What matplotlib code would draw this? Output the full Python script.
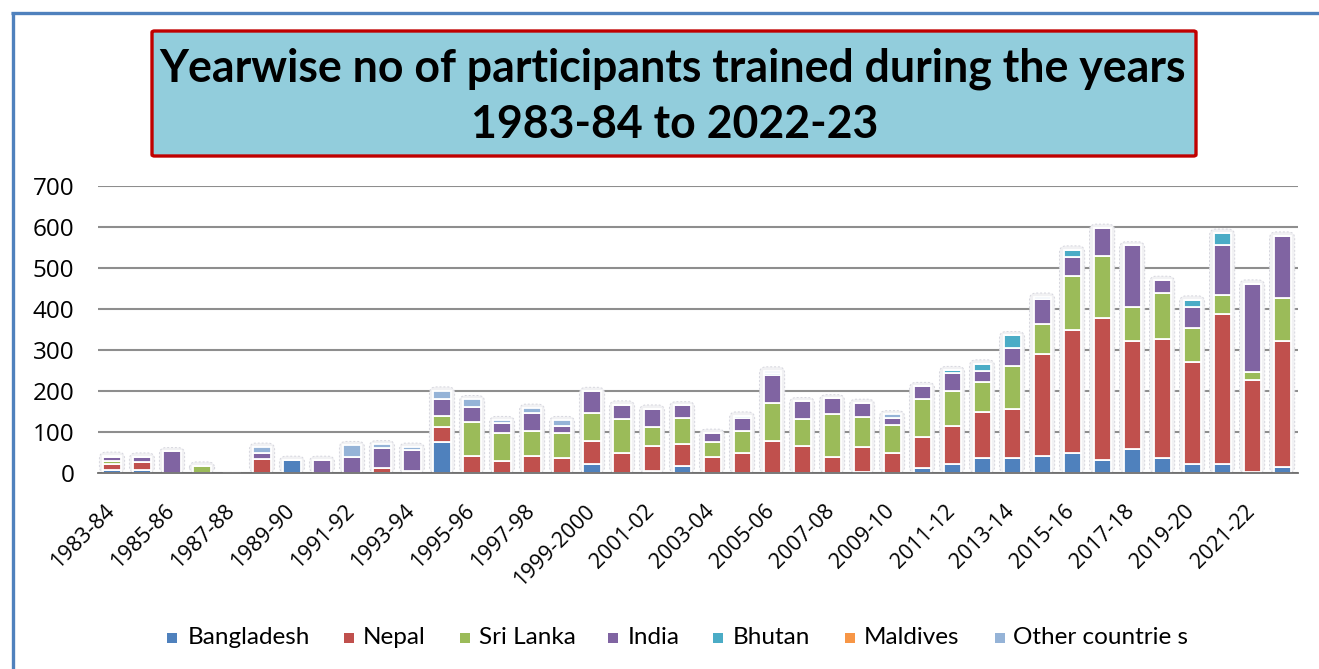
import matplotlib
matplotlib.use("Agg")
import matplotlib.pyplot as plt
import numpy as np
from matplotlib.patches import Rectangle, FancyBboxPatch
from matplotlib.lines import Line2D
from matplotlib.transforms import ScaledTranslation

# ---------------- data ----------------
years = ["1983-84", "1984-85", "1985-86", "1986-87", "1987-88", "1988-89", "1989-90",
         "1990-91", "1991-92", "1992-93", "1993-94", "1994-95", "1995-96", "1996-97",
         "1997-98", "1998-99", "1999-2000", "2000-01", "2001-02", "2002-03", "2003-04",
         "2004-05", "2005-06", "2006-07", "2007-08", "2008-09", "2009-10", "2010-11",
         "2011-12", "2012-13", "2013-14", "2014-15", "2015-16", "2016-17", "2017-18",
         "2018-19", "2019-20", "2020-21", "2021-22", "2022-23"]

bangladesh = [7, 7, 0, 0, 0, 0, 32, 0, 0, 0, 0, 75, 0, 0, 0, 0, 23, 0, 6, 18,
              0, 0, 0, 0, 0, 3, 0, 11, 22, 36, 36, 41, 48, 32, 58, 36, 23, 23, 3, 14]
nepal = [14, 20, 0, 0, 0, 33, 0, 0, 0, 12, 5, 38, 42, 29, 41, 36, 55, 48, 60, 52,
         40, 49, 79, 67, 40, 61, 48, 77, 93, 112, 121, 249, 300, 346, 264, 292, 247, 365, 225, 308]
sri_lanka = [9, 0, 0, 18, 0, 0, 0, 0, 0, 0, 0, 27, 83, 68, 61, 61, 69, 83, 45, 63,
             36, 54, 91, 64, 104, 73, 70, 92, 85, 73, 104, 73, 133, 151, 84, 112, 83, 45, 18, 105]
india = [9, 13, 53, 0, 0, 17, 0, 32, 40, 48, 52, 41, 35, 24, 45, 18, 53, 36, 46, 32,
         22, 31, 68, 44, 38, 34, 16, 32, 45, 28, 44, 62, 45, 69, 149, 31, 53, 124, 216, 152]
bhutan = [0, 0, 0, 0, 0, 0, 0, 0, 0, 0, 0, 0, 0, 0, 0, 0, 0, 0, 0, 0,
          0, 6, 6, 0, 0, 0, 0, 0, 6, 18, 31, 0, 19, 0, 0, 0, 17, 29, 0, 0]
maldives = [0] * 40
others = [3, 0, 0, 0, 0, 14, 0, 0, 28, 10, 7, 20, 20, 8, 12, 14, 0, 0, 0, 0,
          0, 0, 6, 0, 0, 0, 9, 0, 0, 0, 0, 5, 0, 0, 0, 0, 0, 0, 0, 0]

series_names = ["Bangladesh", "Nepal", "Sri Lanka", "India", "Bhutan", "Maldives",
                "Other countrie s"]
series = [bangladesh, nepal, sri_lanka, india, bhutan, maldives, others]
colors = ["#4F81BD", "#C0504D", "#9BBB59", "#8064A2", "#4BACC6", "#F79646", "#95B3D7"]

yticks = [0, 100, 200, 300, 400, 500, 600, 700]
title1 = "Yearwise no of participants trained during the years"
title2 = "1983-84 to 2022-23"

# ---------------- figure ----------------
W, H = 1319, 669
fig = plt.figure(figsize=(W / 100, H / 100), dpi=100)
fig.patch.set_facecolor("white")

def fx(px):
    return px / W

def fy(py):
    return 1 - py / H

# outer blue frame (top and left)
fig.add_artist(Line2D([fx(11), fx(W + 5)], [fy(13), fy(13)], color="#4F81BD", lw=2.4,
                      transform=fig.transFigure, solid_capstyle="butt"))
fig.add_artist(Line2D([fx(13), fx(13)], [fy(11.8), fy(H + 5)], color="#4F81BD", lw=2.4,
                      transform=fig.transFigure, solid_capstyle="butt"))

# title box
fig.add_artist(FancyBboxPatch((fx(152), fy(156)), fx(1196) - fx(152), fy(31) - fy(156),
                              boxstyle="round,pad=0,rounding_size=0.002",
                              transform=fig.transFigure, facecolor="#92CDDC",
                              edgecolor="#C00000", lw=2.4))

ax = fig.add_axes([fx(98), fy(473), fx(1298) - fx(98), fy(186) - fy(473)])
x = np.arange(len(years))
ax.set_xlim(-0.467, 39.53)
ax.set_ylim(0, 700)

totals = np.sum(np.array(series, dtype=float), axis=0)

# soft glow behind each bar
px_x = 30.0
px_y = 287.0 / 700.0
aspect = (1 / px_y) / (1 / px_x)
for xi, t in zip(x, totals):
    if t <= 0:
        continue
    gw = 0.84
    g = FancyBboxPatch((xi - gw / 2, 0), gw, t + 9,
                       boxstyle="round,pad=0,rounding_size=0.22",
                       mutation_aspect=aspect,
                       facecolor="#F1F1F3", edgecolor="#D6D6DE", lw=0.7,
                       linestyle=(0, (2, 2)), zorder=1.5)
    ax.add_patch(g)

bottom = np.zeros(len(years))
for name, vals, c in zip(series_names, series, colors):
    vals = np.array(vals, dtype=float)
    ax.bar(x, vals, width=0.57, bottom=bottom, color=c, edgecolor="white",
           linewidth=1.3, zorder=2, label=name)
    bottom += vals

ax.set_yticks(yticks)
ax.yaxis.grid(True, color="#8E8E8E", lw=1.5, zorder=0.5)
ax.set_axisbelow(True)
for s in ["left", "right", "top"]:
    ax.spines[s].set_visible(False)
ax.spines["bottom"].set_color("#6E6E6E")
ax.spines["bottom"].set_linewidth(1.3)
ax.spines["bottom"].set_zorder(3)

ax.tick_params(axis="y", length=0, pad=17)
ax.tick_params(axis="x", length=0, pad=20)
ax.set_yticklabels([str(v) for v in yticks], fontsize=17.5,
                   fontfamily=["Open Sans", "DejaVu Sans"])

ax.set_xticks(x[::2])
ax.set_xticklabels(years[::2], rotation=45, ha="right", rotation_mode="anchor",
                   fontsize=15.5, fontfamily=["Open Sans", "DejaVu Sans"])
for lbl in ax.get_xticklabels():
    lbl.set_transform(lbl.get_transform() + ScaledTranslation(-8 / 100, 0, fig.dpi_scale_trans))

# ---------------- texts ----------------
renderer = fig.canvas.get_renderer()

def fit(txt, target_px):
    ext = txt.get_window_extent(renderer=renderer)
    txt.set_fontsize(txt.get_fontsize() * target_px / ext.width)

t1 = fig.text(fx(673), fy(69), title1, ha="center", va="center", fontsize=30,
              fontweight="bold", family=["Lato", "DejaVu Sans"], color="black")
fit(t1, 1025)
t2 = fig.text(fx(675), fy(125), title2, ha="center", va="center",
              fontsize=t1.get_fontsize(), fontweight="bold",
              family=["Lato", "DejaVu Sans"], color="black")

# legend
leg_marker_x = [172, 349, 465, 613, 718, 850, 1000]
leg_text_x = [188, 363, 479, 628, 733, 864, 1013]
leg_y = 638
probe = fig.text(0, 0, "Bangladesh", fontsize=16, family=["Lato", "DejaVu Sans"])
fit(probe, 123)
lfs = probe.get_fontsize()
probe.remove()
for mx, tx, name, c in zip(leg_marker_x, leg_text_x, series_names, colors):
    fig.add_artist(Rectangle((fx(mx - 5), fy(leg_y + 5)), fx(10), 10 / H,
                             transform=fig.transFigure, facecolor=c, edgecolor="none"))
    fig.text(fx(tx), fy(leg_y), name, ha="left", va="center", fontsize=lfs,
             family=["Lato", "DejaVu Sans"], color="black")

fig.savefig("out.png", dpi=100, facecolor="white")
